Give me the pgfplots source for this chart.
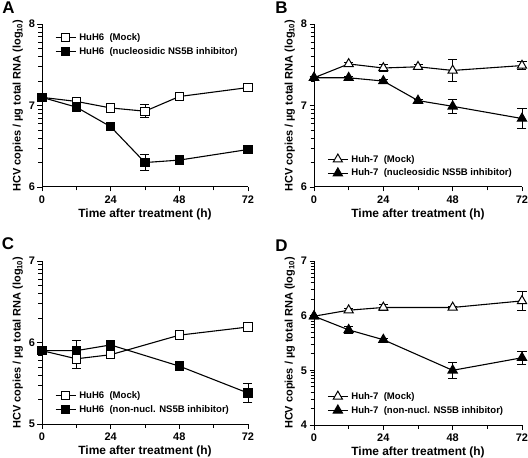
\documentclass[border=0pt]{standalone}
\usepackage{pgfplots}
\pgfplotsset{compat=1.18}
\usepackage{fontspec}
\setmainfont{Liberation Sans}
\begin{document}
\begin{tikzpicture}
\path[use as bounding box] (0bp,0bp) rectangle (528bp,458bp);
\pgfplotsset{
 panel/.style={
  scale only axis, height=163bp,
  axis x line*=bottom, axis y line*=left, axis line style={-, line width=1pt},
  xtick pos=left, ytick pos=left,
  xmin=0, xmax=72, xtick={0,24,48,72}, minor xtick={12,36,60},
  tick align=outside, major tick length=4.5bp, minor tick length=3.5bp,
  tick style={line width=0.9pt, black},
  minor tick style={line width=0.8pt, black},
  tick label style={font=\bfseries\fontsize{11}{13}\selectfont},
  xticklabel style={yshift=-1bp},
  yticklabel style={xshift=1bp},
  xlabel={Time after treatment (h)},
  ylabel={HCV copies / µg total RNA (log$_{\mathbf{10}}$)},
  xlabel style={font=\bfseries\fontsize{12}{14}\selectfont, yshift=2bp},
  ylabel style={font=\bfseries\fontsize{11}{13}\selectfont, yshift=-1bp},
  clip=false,
  legend style={draw=none, fill=none, font=\bfseries\fontsize{9.6}{12}\selectfont, row sep=1.5bp, inner sep=0pt,
    nodes={inner xsep=3bp}},
  legend cell align=left,
  legend image code/.code={\draw[##1,mark=none] (0bp,0bp) -- (20bp,0bp); \draw[##1,only marks] plot coordinates {(10bp,0bp)};},
  every axis plot/.append style={line width=1.1pt, black},
  /pgf/number format/assume math mode=true,
 },
 ebar/.style={error bars/.cd, y dir=both, y explicit, error bar style={line width=0.9pt, black}, error mark options={rotate=90, mark size=4.5bp, line width=0.9pt, black}},
 mockA/.style={mark=square*, mark size=4.2bp, mark options={fill=white, solid, line width=1pt}},
 inhA/.style={mark=square*, mark size=4.2bp, mark options={fill=black, solid}},
 mockB/.style={mark=triangle*, mark size=5.3bp, mark options={fill=white, solid, line width=1pt}},
 inhB/.style={mark=triangle*, mark size=5.3bp, mark options={fill=black, solid}},
}
% Panel A
\begin{axis}[panel, at={(42bp,271bp)}, anchor=south west, width=206bp,
  ymin=6, ymax=8, ytick={6,7,8},
  minor ytick={6.301,6.477,6.602,6.699,6.778,6.845,6.903,6.954,7.301,7.477,7.602,7.699,7.778,7.845,7.903,7.954},
  legend style={at={(0.063,0.955)}, anchor=north west}]
\addplot[mockA, ebar] coordinates {(0,7.10) +- (0,0.02) (12,7.05) +- (0,0.02) (24,6.97) +- (0,0.03) (36,6.93) +- (0,0.08) (48,7.11) +- (0,0.02) (72,7.22) +- (0,0.02)};
\addlegendentry{HuH6\ \ (Mock)}
\addplot[inhA, ebar] coordinates {(0,7.10) +- (0,0.02) (12,6.98) +- (0,0.02) (24,6.74) +- (0,0.02) (36,6.30) +- (0,0.10) (48,6.33) +- (0,0.02) (72,6.46) +- (0,0.02)};
\addlegendentry{HuH6\ \ (nucleosidic NS5B inhibitor)}
\end{axis}
% Panel B
\begin{axis}[panel, at={(314bp,271bp)}, anchor=south west, width=208bp,
  ymin=6, ymax=8, ytick={6,7,8},
  minor ytick={6.301,6.477,6.602,6.699,6.778,6.845,6.903,6.954,7.301,7.477,7.602,7.699,7.778,7.845,7.903,7.954},
  legend style={at={(0.063,0.045)}, anchor=south west}]
\addplot[mockB, ebar] coordinates {(0,7.34) +- (0,0.02) (12,7.51) +- (0,0.02) (24,7.46) +- (0,0.04) (36,7.475) +- (0,0.03) (48,7.43) +- (0,0.13) (72,7.49) +- (0,0.05)};
\addlegendentry{Huh-7\ \ (Mock)}
\addplot[inhB, ebar] coordinates {(0,7.34) +- (0,0.02) (12,7.34) +- (0,0.02) (24,7.30) +- (0,0.02) (36,7.06) +- (0,0.02) (48,6.99) +- (0,0.09) (72,6.84) +- (0,0.12)};
\addlegendentry{Huh-7\ \ (nucleosidic NS5B inhibitor)}
\end{axis}
% Panel C
\begin{axis}[panel, at={(42bp,34bp)}, anchor=south west, width=206bp,
  ymin=5, ymax=7, ytick={5,6,7},
  minor ytick={5.301,5.477,5.602,5.699,5.778,5.845,5.903,5.954,6.301,6.477,6.602,6.699,6.778,6.845,6.903,6.954},
  legend style={at={(0.063,0.05)}, anchor=south west}]
\addplot[mockA, ebar] coordinates {(0,5.90) +- (0,0.02) (12,5.80) +- (0,0.12) (24,5.85) +- (0,0.02) (48,6.09) +- (0,0.02) (72,6.19) +- (0,0.04)};
\addlegendentry{HuH6\ \ (Mock)}
\addplot[inhA, ebar] coordinates {(0,5.90) +- (0,0.02) (12,5.90) +- (0,0.12) (24,5.97) +- (0,0.02) (48,5.71) +- (0,0.02) (72,5.38) +- (0,0.12)};
\addlegendentry{HuH6\ \ (non-nucl. NS5B inhibitor)}
\end{axis}
% Panel D
\begin{axis}[panel, at={(314bp,33bp)}, anchor=south west, width=208bp, height=164bp,
  ymin=4, ymax=7, ytick={4,5,6,7},
  minor ytick={4.301,4.477,4.602,4.699,4.778,4.845,4.903,4.954,5.301,5.477,5.602,5.699,5.778,5.845,5.903,5.954,6.301,6.477,6.602,6.699,6.778,6.845,6.903,6.954},
  legend style={at={(0.063,0.05)}, anchor=south west}]
\addplot[mockB, ebar] coordinates {(0,5.99) +- (0,0.02) (12,6.10) +- (0,0.04) (24,6.15) +- (0,0.05) (48,6.15) +- (0,0.02) (72,6.27) +- (0,0.18)};
\addlegendentry{Huh-7\ \ (Mock)}
\addplot[inhB, ebar] coordinates {(0,5.99) +- (0,0.02) (12,5.74) +- (0,0.06) (24,5.56) +- (0,0.03) (48,5.00) +- (0,0.14) (72,5.23) +- (0,0.12)};
\addlegendentry{Huh-7\ \ (non-nucl. NS5B inhibitor)}
\end{axis}
\node[font=\bfseries\fontsize{17}{20}\selectfont] at (8.5bp,450bp) {A};
\node[font=\bfseries\fontsize{17}{20}\selectfont] at (281.5bp,450bp) {B};
\node[font=\bfseries\fontsize{17}{20}\selectfont] at (8bp,214bp) {C};
\node[font=\bfseries\fontsize{17}{20}\selectfont] at (281.5bp,212.5bp) {D};
\end{tikzpicture}
\end{document}
